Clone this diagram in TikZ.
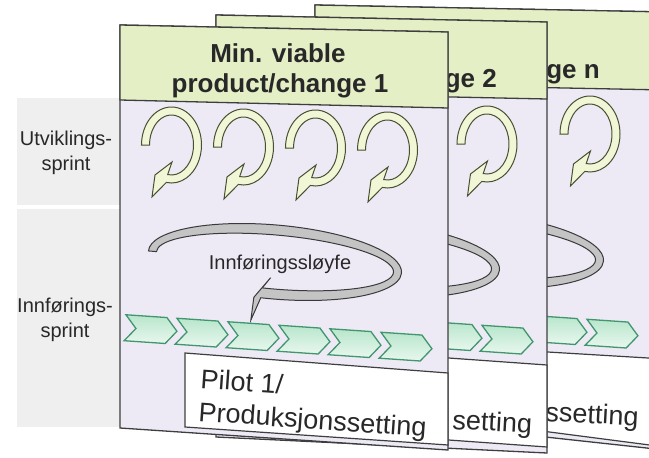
\documentclass[tikz,border=0pt]{standalone}
\usepackage{fontspec}
\setmainfont{Liberation Sans}
\usetikzlibrary{shapes.symbols}
\definecolor{stripgray}{RGB}{239,239,239}
\definecolor{bodylav}{RGB}{237,234,246}
\definecolor{headgreen}{RGB}{228,239,198}
\definecolor{edgegray}{RGB}{62,62,62}
\definecolor{sprintfill}{RGB}{241,247,214}
\definecolor{sprintedge}{RGB}{72,80,48}
\definecolor{chevedge}{RGB}{66,150,110}
\definecolor{chevtop}{RGB}{184,230,204}
\definecolor{chevbot}{RGB}{232,247,238}
\definecolor{loopfill}{RGB}{196,196,196}
\definecolor{loopedge}{RGB}{58,58,58}
\definecolor{textgray}{RGB}{40,40,40}

\begin{document}
\begin{tikzpicture}[x=1pt,y=1pt,
  panel/.style={draw=edgegray, line width=1.3pt, fill=bodylav},
  header/.style={draw=edgegray, line width=1.3pt, fill=headgreen},
  pilotbox/.style={draw=edgegray, line width=1.2pt, fill=white},
  sprintarrow/.style={draw=sprintedge, line width=1pt, fill=sprintfill},
  loopband/.style={draw=loopedge, line width=1pt, fill=loopfill},
  chevron/.style={shape=signal, signal from=west, signal to=east, signal pointer angle=100,
    minimum width=52, minimum height=26, inner sep=0pt, rotate=-3.9,
    draw=chevedge, line width=1.3pt, top color=chevtop, bottom color=chevbot},
  headtext/.style={font=\fontsize{26}{30}\selectfont\bfseries, text=textgray, inner sep=0pt},
  pilottext/.style={font=\fontsize{27}{33}\selectfont, text=textgray, inner sep=0pt},
  sidetext/.style={font=\fontsize{20}{25}\selectfont, text=textgray, align=center, inner sep=0pt},
  looptext/.style={font=\fontsize{20}{24}\selectfont, text=textgray, inner sep=0pt},
  sprintloop/.pic={
    \filldraw[sprintarrow] (180:30 and 38) arc[start angle=180, end angle=-100, x radius=30, y radius=38]
      -- (-19.5,-52) -- (-16.5,-30) -- (0.5,-17) -- (-100:22 and 30)
      arc[start angle=-100, end angle=180, x radius=22, y radius=30] -- cycle;
  },
  insloop/.pic={
    \filldraw[loopband] (180:127 and 37) arc[start angle=180, end angle=-95, x radius=127, y radius=37]
      -- (-19,-60) -- (-18,-37) -- (-3,-16) -- (-95:119 and 27)
      arc[start angle=-95, end angle=180, x radius=119, y radius=27] -- cycle;
  }]
\useasboundingbox (0,0) rectangle (649,-458);
\clip (0,0) rectangle (649,-458);

\fill[stripgray] (17,-98) rectangle (120,-205);
\fill[stripgray] (17,-209) rectangle (120,-427);

% change n
\draw[panel] (315,-5) -- (665,-12) -- (665,-450) -- (315,-412) -- cycle;
\draw[header] (315,-5) -- (665,-12) -- (665,-90) -- (315,-83) -- cycle;
\node[headtext, anchor=base east] (hdC) at (600,-78) {ge n};
\pic (spC) at (590,-134) {sprintloop};
\pic[rotate=-5] (slC) at (477,-250) {insloop};
\foreach \i in {0,...,5}
  \node[chevron] (cvC\i) at ({357+51*\i},{-316.5-3.5*\i}) {};
\draw[pilotbox] (380,-342) -- (665,-359) -- (665,-447) -- (380,-410) -- cycle;
\node[pilottext, anchor=base west, rotate=-3] (plC) at (545,-421) {ssetting};

% change 2
\draw[panel] (216,-15) -- (547,-22) -- (547,-453) -- (216,-437) -- cycle;
\draw[header] (216,-15) -- (547,-22) -- (547,-99) -- (216,-92) -- cycle;
\node[headtext, anchor=base east] (hdB) at (497,-87) {ge 2};
\pic (spB) at (487,-144) {sprintloop};
\pic[rotate=-5] (slB) at (373,-259) {insloop};
\foreach \i in {0,...,5}
  \node[chevron] (cvB\i) at ({252+51*\i},{-322.5-3.5*\i}) {};
\draw[pilotbox] (280,-346) -- (547,-365) -- (547,-447) -- (280,-428) -- cycle;
\node[pilottext, anchor=base west, rotate=-3] (plB) at (452,-429) {setting};

% change 1
\draw[panel] (120,-25) -- (448,-32) -- (448,-450) -- (120,-428) -- cycle;
\draw[header] (120,-25) -- (448,-32) -- (448,-108) -- (120,-100) -- cycle;
\node[headtext, anchor=base] (hdA1) at (278,-62) {Min. viable};
\node[headtext, anchor=base] (hdA2) at (280,-92) {product/change 1};
\foreach \i/\y in {0/145,1/147,2/148,3/150}
  \pic (spA\i) at ({171.5+72*\i},-\y) {sprintloop};
\pic[rotate=-5] (slA) at (275,-262) {insloop};
\node[looptext] (ltA) at (280,-264) {Innføringssløyfe};
\foreach \i in {0,...,5}
  \node[chevron] (cvA\i) at ({151+51*\i},{-329.5-3.5*\i}) {};
\draw[pilotbox] (185,-353) -- (448,-373) -- (448,-445) -- (185,-427) -- cycle;
\node[pilottext, anchor=base west, rotate=-4] (plA1) at (200,-388) {Pilot 1/};
\node[pilottext, anchor=base west, rotate=-4] (plA2) at (198,-421) {Produksjonssetting};

\node[sidetext] (lbU) at (66,-153) {Utviklings-\\sprint};
\node[sidetext] (lbI) at (65,-320) {Innførings-\\sprint};
\end{tikzpicture}
\end{document}
